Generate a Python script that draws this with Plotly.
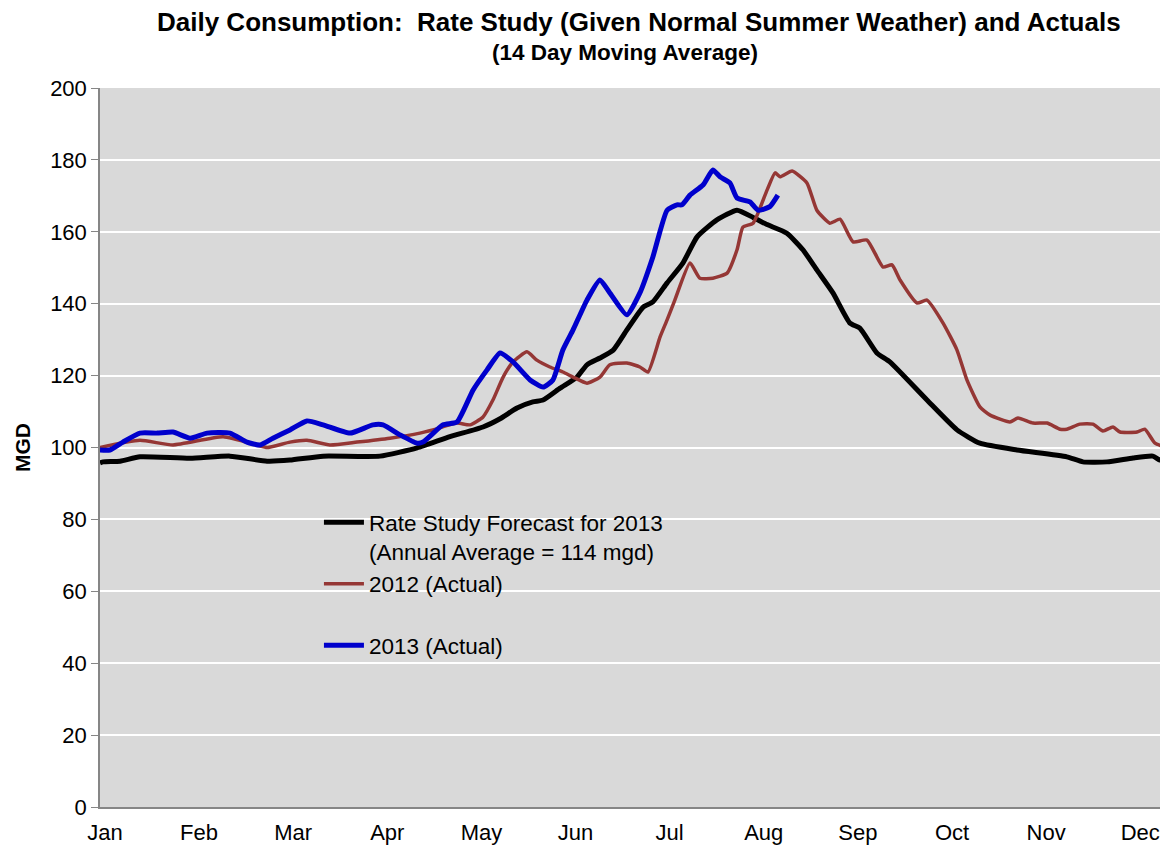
import plotly.graph_objects as go

# ---- data (day of year index, MGD) ----
months = ["Jan", "Feb", "Mar", "Apr", "May", "Jun", "Jul", "Aug", "Sep", "Oct", "Nov", "Dec"]

forecast_day = [0, 1.0, 6.5, 12.9, 29.1, 42.0, 54.0, 61.4, 72.1, 90.5, 102.5, 113.1, 123.8, 129.3,
                134.8, 139.9, 143.2, 148.7, 154.2, 157.4, 161.6, 165.8, 170.3, 175.5, 178.7, 183.3,
                188.4, 193.0, 199.4, 205.9, 211.1, 215.6, 222.0, 227.2, 231.7, 236.9, 242.4, 245.6,
                251.1, 255.3, 267.3, 277.0, 284.4, 296.4, 312.5, 317.7, 325.5, 333.9, 340.3, 342.6, 345.2]
forecast_val = [95.7, 96.0, 96.2, 97.4, 97.0, 97.6, 96.2, 96.5, 97.6, 97.6, 99.9, 103.0, 105.7, 108.0,
                111.0, 112.7, 113.2, 116.5, 119.6, 123.0, 124.9, 127.0, 132.7, 139.0, 140.5, 145.8,
                151.3, 158.6, 163.3, 166.0, 164.0, 162.0, 159.6, 155.0, 149.4, 143.0, 134.6, 133.2,
                126.3, 123.8, 113.2, 104.9, 101.2, 99.3, 97.4, 96.0, 96.0, 97.1, 97.6, 96.5, 96.5]

y2012_day = [0, 12.9, 23.6, 39.8, 50.7, 54.0, 61.4, 66.9, 74.3, 83.1, 93.7, 103.4, 107.6, 115.4,
             119.6, 123.8, 127.0, 130.3, 133.5, 138.0, 141.2, 145.4, 149.6, 152.9, 157.4, 161.6,
             164.8, 170.3, 174.5, 177.1, 181.0, 183.3, 185.8, 190.7, 193.9, 198.1, 202.7, 205.9,
             207.8, 211.1, 215.6, 218.2, 219.8, 223.7, 228.5, 231.7, 235.9, 239.2, 243.4, 247.9,
             253.1, 256.0, 258.6, 264.1, 267.3, 272.5, 277.0, 280.2, 284.4, 287.7, 294.1, 296.7,
             301.6, 306.1, 310.3, 312.5, 316.7, 320.9, 324.2, 327.4, 329.7, 335.2, 337.7, 341.0, 345.2]
y2012_val = [100.0, 102.0, 100.7, 103.0, 100.7, 100.0, 101.5, 102.0, 100.7, 101.5, 102.6, 104.0, 104.9, 106.8,
             106.3, 108.5, 113.2, 119.6, 123.8, 126.6, 124.3, 122.4, 121.0, 119.6, 117.9, 119.6,
             123.0, 123.5, 122.4, 121.0, 130.7, 135.5, 141.0, 151.3, 147.1, 147.1, 148.5, 155.0,
             161.3, 162.4, 171.6, 176.4, 175.3, 176.9, 173.6, 166.0, 162.4, 163.5, 157.2, 157.7,
             150.2, 150.8, 146.6, 140.2, 141.0, 134.6, 127.1, 118.8, 111.3, 109.0, 107.1, 108.2,
             106.8, 106.8, 105.1, 105.1, 106.5, 106.5, 104.6, 105.7, 104.3, 104.3, 105.1, 101.2, 99.9]

y2013_day = [0, 3.2, 7.4, 12.9, 18.4, 23.6, 29.1, 34.6, 42.0, 47.5, 51.7, 55.9, 61.4, 66.9, 72.1,
             80.8, 88.2, 91.5, 97.0, 102.5, 104.4, 110.9, 115.4, 120.6, 125.1, 129.3, 133.5, 139.0,
             143.2, 146.4, 149.6, 152.9, 157.4, 161.6, 164.8, 170.3, 174.5, 178.7, 183.3, 186.5,
             188.1, 190.7, 194.9, 198.1, 200.4, 203.6, 205.9, 210.1, 212.7, 216.5, 219.1]
y2013_val = [99.3, 99.3, 101.5, 104.0, 104.0, 104.3, 102.6, 104.0, 104.0, 101.5, 100.7, 102.6, 104.9, 107.4, 106.3,
             104.0, 106.3, 106.3, 103.5, 101.2, 101.5, 106.3, 107.1, 116.0, 121.6, 126.3, 123.8, 118.8,
             116.8, 118.8, 127.1, 132.7, 141.0, 146.6, 143.0, 136.9, 143.0, 153.0, 166.0, 167.5,
             167.5, 170.2, 173.0, 177.2, 175.3, 173.6, 169.4, 168.3, 166.0, 167.0, 170.2]

FONT = "Arial, Liberation Sans, sans-serif"

# figure is placed at (8,8) by the page's body margin
L, T, B_PLOT = 92, 80, 799
W, H = 1160, 837

fig = go.Figure()
fig.add_trace(go.Scatter(x=forecast_day, y=forecast_val, mode="lines",
                         name="Rate Study Forecast for 2013<br>(Annual Average = 114 mgd)",
                         line=dict(color="#000000", width=5, shape="spline", smoothing=0.5),
                         legendgroup="a"))
fig.add_trace(go.Scatter(x=y2012_day, y=y2012_val, mode="lines",
                         name="2012 (Actual)<br> ",
                         line=dict(color="#953735", width=3.5, shape="spline", smoothing=0.5),
                         legendgroup="b"))
fig.add_trace(go.Scatter(x=y2013_day, y=y2013_val, mode="lines",
                         name="2013 (Actual)",
                         line=dict(color="#0000CC", width=5, shape="spline", smoothing=0.5),
                         legendgroup="c"))

tickvals = [1.6 + 30.42 * i for i in range(12)]
ph = B_PLOT - T
pw = W - L

fig.update_layout(
    width=W, height=H,
    margin=dict(l=L, r=0, t=T, b=H - B_PLOT),
    paper_bgcolor="white",
    plot_bgcolor="#D9D9D9",
    font=dict(family=FONT, size=22, color="black"),
    showlegend=True,
    legend=dict(x=0.205, y=(B_PLOT - 493) / ph, xanchor="left", yanchor="top",
                bgcolor="rgba(0,0,0,0)", font=dict(size=22.5, family=FONT),
                valign="top", tracegroupgap=0, itemwidth=40),
    annotations=[
        dict(text="<b>Daily Consumption:  Rate Study (Given Normal Summer Weather) and Actuals</b>",
             xref="paper", yref="paper", x=(631 - L) / pw, y=(B_PLOT - 14) / ph,
             xanchor="center", yanchor="middle", showarrow=False,
             font=dict(size=26, family=FONT)),
        dict(text="<b>(14 Day Moving Average)</b>",
             xref="paper", yref="paper", x=(617 - L) / pw, y=(B_PLOT - 44) / ph,
             xanchor="center", yanchor="middle", showarrow=False,
             font=dict(size=22.5, family=FONT)),
    ],
)
fig.update_xaxes(range=[0, 345.2], tickvals=tickvals, ticktext=months, showgrid=False,
                 showline=True, linecolor="#868686", linewidth=1.5, ticks="",
                 zeroline=False, tickfont=dict(size=22), ticklabelstandoff=5)
fig.update_yaxes(range=[0, 200], dtick=20, showgrid=True, gridcolor="white", gridwidth=2,
                 showline=True, linecolor="#868686", linewidth=1.5, ticks="outside",
                 ticklen=7, tickcolor="#868686", zeroline=False, tickfont=dict(size=22),
                 title=dict(text="<b>MGD</b>", font=dict(size=21), standoff=14))

fig.write_html("out.html")
